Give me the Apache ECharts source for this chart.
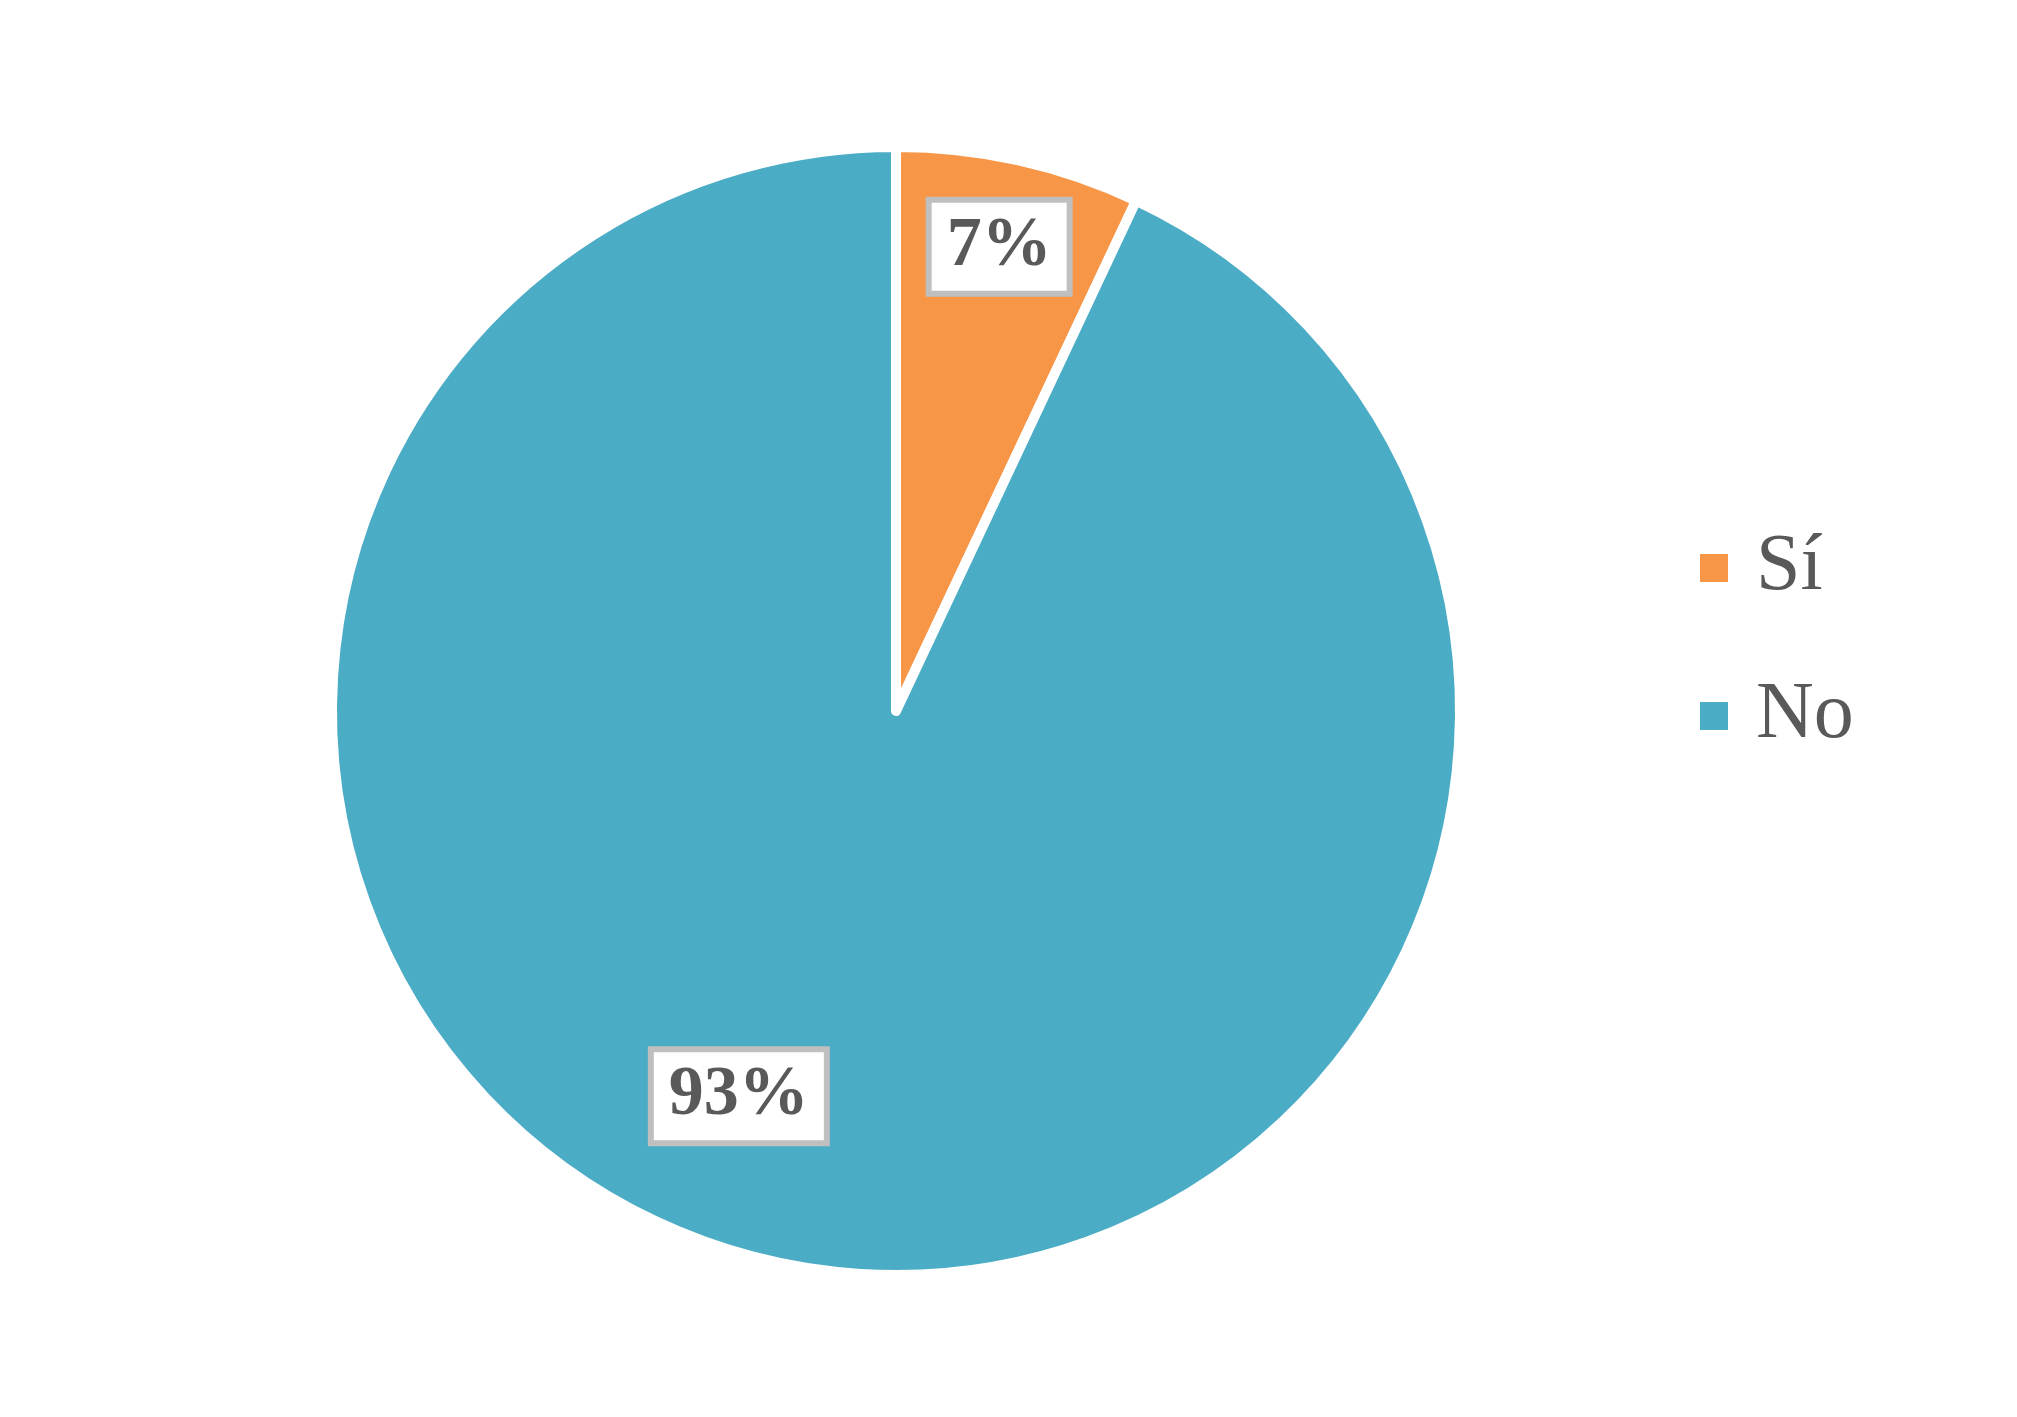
<!DOCTYPE html>
<html>
<head>
<meta charset="utf-8">
<script src="https://cdn.jsdelivr.net/npm/echarts@6/dist/echarts.min.js"></script>
<style>
  html, body { margin: 0; padding: 0; background: #ffffff; }
  #chart { width: 2017px; height: 1417px; }
</style>
</head>
<body>
<div id="chart"></div>
<script>
// datos
var categories = ['Sí', 'No'];
var values = [7, 93];
var colors = ['#F79646', '#4BACC6'];
// desplazamiento de cada etiqueta respecto a la posicion "inside"
var labelOffsets = [[41, -186], [-95, 107]];

var chart = echarts.init(document.getElementById('chart'), null, { renderer: 'canvas' });

var pieData = categories.map(function (name, i) {
  return {
    name: name,
    value: values[i],
    itemStyle: { color: colors[i] },
    label: { offset: labelOffsets[i] }
  };
});

var option = {
  backgroundColor: '#ffffff',
  animation: false,
  legend: {
    orient: 'vertical',
    left: 1693,
    top: 522,
    itemWidth: 30,
    itemHeight: 30,
    itemGap: 66,
    icon: 'rect',
    textStyle: {
      fontFamily: 'Liberation Serif',
      fontSize: 80,
      lineHeight: 82,
      color: '#595959',
      padding: [0, 0, 0, 22]
    },
    data: categories
  },
  series: [{
    type: 'pie',
    center: [896, 711],
    radius: 564,
    startAngle: 90,
    clockwise: true,
    itemStyle: {
      borderColor: '#ffffff',
      borderWidth: 10,
      borderJoin: 'round'
    },
    labelLine: { show: false },
    label: {
      show: true,
      position: 'inside',
      formatter: '{d}%',
      fontFamily: 'Liberation Serif',
      fontWeight: 'bold',
      fontSize: 70,
      lineHeight: 72,
      color: '#595959',
      backgroundColor: '#ffffff',
      borderColor: '#BFBFBF',
      borderWidth: 6,
      padding: [8, 15]
    },
    emphasis: { disabled: true },
    data: pieData
  }]
};

chart.setOption(option);
</script>
</body>
</html>
